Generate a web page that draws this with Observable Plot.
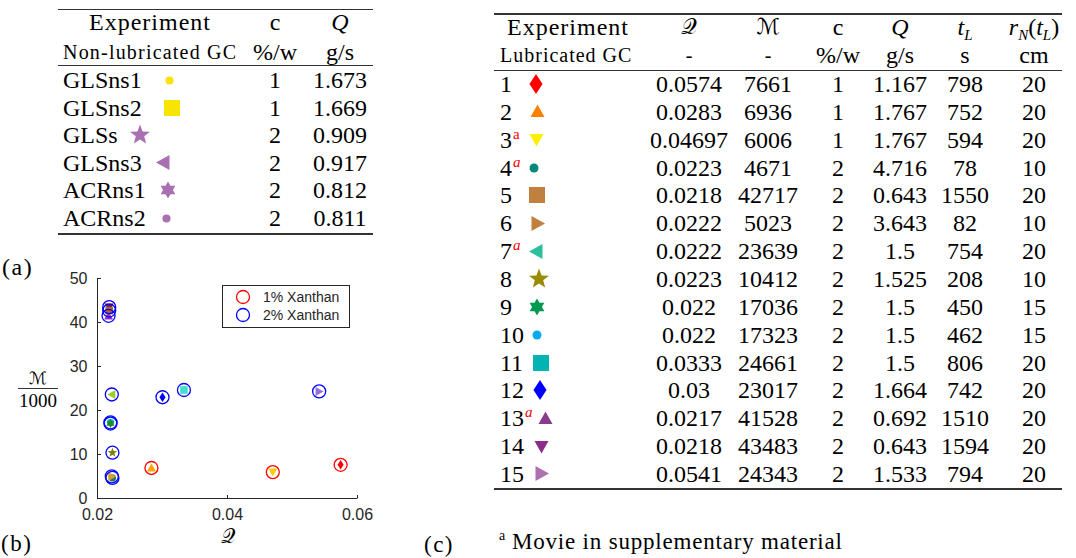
<!DOCTYPE html>
<html><head><meta charset="utf-8">
<script src="https://cdn.jsdelivr.net/npm/d3@7"></script>
<script src="https://cdn.jsdelivr.net/npm/@observablehq/plot@0.6"></script>
<style>
body{margin:0;background:#fff;}
#fig{position:relative;width:1076px;height:558px;overflow:hidden;background:#fff;font-family:"Liberation Serif","Times New Roman",serif;color:#000;}
.t{position:absolute;white-space:nowrap;line-height:1;font-family:"Liberation Serif","Times New Roman",serif;}
.rule{position:absolute;background:#333;}
.m{font-family:"DejaVu Serif","DejaVu Sans","Noto Sans",serif;font-style:normal;}
</style></head><body><div id="fig"></div>
<script>
// ---------- data ----------
const nonLubNames = ["GLSns1","GLSns2","GLSs","GLSns3","ACRns1","ACRns2"];
const nonLubC = [1,1,2,2,2,2];
const nonLubQ = ["1.673","1.669","0.909","0.917","0.812","0.811"];
const nonLubShape = ["circle","square","star","triLeft","hexagram","circle"];
const nonLubColor = ["#f7e400","#f7e400","#a870b0","#a870b0","#a870b0","#a870b0"];

const lubIds = [1,2,3,4,5,6,7,8,9,10,11,12,13,14,15];
const lubNote = ["","","a","ai","","","ai","","","","","","ai","",""];
const lubQcal = ["0.0574","0.0283","0.04697","0.0223","0.0218","0.0222","0.0222","0.0223","0.022","0.022","0.0333","0.03","0.0217","0.0218","0.0541"];
const lubM = [7661,6936,6006,4671,42717,5023,23639,10412,17036,17323,24661,23017,41528,43483,24343];
const lubC = [1,1,1,2,2,2,2,2,2,2,2,2,2,2,2];
const lubQ = ["1.167","1.767","1.767","4.716","0.643","3.643","1.5","1.525","1.5","1.5","1.5","1.664","0.692","0.643","1.533"];
const lubTL = [798,752,594,78,1550,82,754,208,450,462,806,742,1510,1594,794];
const lubRN = [20,20,20,10,20,10,20,10,15,15,20,20,20,20,20];
const lubShape = ["diamond","triUp","triDown","circle","square","triRight","triLeft","star","hexagram","circle","square","diamond","triUp","triDown","triRight"];
const lubColor = ["#ff0000","#ff8000","#ffee00","#00897a","#c0803e","#c0803e","#2ebf9e","#998c00","#00994f","#00aaee","#00b4b4","#0000ff","#8c3a8c","#8a2e8a","#b070b0"];
const plotColor = ["#ff0000","#ffa500","#ffcc00","#1f7a6e","#b5651d","#d4a030","#9acd32","#808000","#228b22","#00bfff","#40e0d0","#0000ff","#9932cc","#7f1734","#9370db"];
const xanthanLabels = ["1% Xanthan","2% Xanthan"];
const xanthanColors = ["#ff0000","#0000ff"];
const xTicks = [0.02,0.04,0.06];
const yTicks = [0,10,20,30,40,50];

// ---------- symbols ----------
function poly(pts){return {draw(ctx,size){const r=Math.sqrt(size/Math.PI);ctx.moveTo(pts[0][0]*r,pts[0][1]*r);for(let i=1;i<pts.length;i++)ctx.lineTo(pts[i][0]*r,pts[i][1]*r);ctx.closePath();}};}
const starPts=(n,inner)=>d3.range(2*n).map(i=>{const a=-Math.PI/2+i*Math.PI/n;const rr=i%2?inner:1;return [rr*Math.cos(a),rr*Math.sin(a)];});
const SYM={
  circle:{draw(ctx,size){const r=Math.sqrt(size/Math.PI);ctx.moveTo(r,0);ctx.arc(0,0,r,0,2*Math.PI);}},
  square:poly([[-1,-1],[1,-1],[1,1],[-1,1]]),
  diamond:poly([[0,-1.3],[0.85,0],[0,1.3],[-0.85,0]]),
  triUp:poly([[0,-1],[1,0.8],[-1,0.8]]),
  triDown:poly([[0,1],[1,-0.8],[-1,-0.8]]),
  triLeft:poly([[-1,0],[0.8,-1],[0.8,1]]),
  triRight:poly([[1,0],[-0.8,-1],[-0.8,1]]),
  star:poly(starPts(5,0.42)),
  hexagram:poly(starPts(6,0.58))
};
// inward tick marks drawn as line symbols
const tickUp={draw(ctx,size){const r=Math.sqrt(size/Math.PI);ctx.moveTo(0,0);ctx.lineTo(0,-r);}};
const tickRight={draw(ctx,size){const r=Math.sqrt(size/Math.PI);ctx.moveTo(0,0);ctx.lineTo(r,0);}};
const tableR={circle:4.5,square:8,diamond:7.7,triUp:7,triDown:7,triLeft:7.5,triRight:7.5,star:10.5,hexagram:8.5};
const plotR={circle:3.6,square:3.8,diamond:3.6,triUp:4.5,triDown:4.5,triLeft:4.5,triRight:4.5,star:5,hexagram:4.5};

// ---------- helpers ----------
const fig=document.getElementById("fig");
function put(html,x,y,{align="center",size=24,style=""}={}){
  const d=document.createElement("div");d.className="t";d.innerHTML=html;
  d.style.left=x+"px";d.style.top=y+"px";d.style.fontSize=size+"px";
  const tx=align==="center"?"-50%":align==="right"?"-100%":"0";
  d.style.transform=`translate(${tx},-50%)`;
  if(style)d.style.cssText+=style;
  fig.appendChild(d);return d;
}
function rule(x1,x2,y,h){const d=document.createElement("div");d.className="rule";
  d.style.left=x1+"px";d.style.width=(x2-x1)+"px";d.style.top=(y-h/2)+"px";d.style.height=h+"px";fig.appendChild(d);}
function marker(shape,color,x,y,r){
  const s=Math.ceil(r*3);const svg=d3.create("svg").attr("width",s).attr("height",s)
    .style("position","absolute").style("left",(x-s/2)+"px").style("top",(y-s/2)+"px").style("overflow","visible");
  svg.append("path").attr("transform",`translate(${s/2},${s/2})`).attr("d",d3.symbol(SYM[shape],Math.PI*r*r)()).attr("fill",color);
  fig.appendChild(svg.node());
}

// ---------- left table (a) ----------
const L={x1:58,x2:373,top:9.5,mid:65,bot:234,h1:22,h2:52,row0:80,dy:27.6,name:63,c:275,q:340};
const nonLubMarkX=[169,172,140,163,168,166];
rule(L.x1,L.x2,L.top,1.5);rule(L.x1,L.x2,L.mid,1);rule(L.x1,L.x2,L.bot,1.5);
put("Experiment",150,L.h1,{style:"letter-spacing:1px;"});put("c",L.c,L.h1);put("<i>Q</i>",L.q,L.h1);
put("Non-lubricated GC",L.name,L.h2,{align:"left",size:20,style:"letter-spacing:1.2px;"});
put("%/w",L.c,L.h2);put("g/s",L.q,L.h2);
nonLubNames.forEach((n,i)=>{const y=L.row0+L.dy*i;
  put(n,L.name,y,{align:"left"});put(String(nonLubC[i]),L.c,y);put(nonLubQ[i],L.q,y);
  marker(nonLubShape[i],nonLubColor[i],nonLubMarkX[i],y,tableR[nonLubShape[i]]*(nonLubShape[i]==="circle"?0.9:1));
});
put("(a)",2,267,{align:"left",size:24,style:"letter-spacing:1.5px;"});

// ---------- right table (c) ----------
const R={x1:494,x2:1062,top:14,mid:70,bot:489,h1:27,h2:55,row0:84,dy:27.85,num:500,qc:689,m:768,c:838,q:900,tl:965,rn:1034};
const lubMarkX=[536,537,536,534,537,537,536,539,537,537,541,540,545,541,541];
rule(R.x1,R.x2,R.top,1.5);rule(R.x1,R.x2,R.mid,1);rule(R.x1,R.x2,R.bot,1.5);
put("Experiment",568,R.h1,{style:"letter-spacing:1px;"});
put("<span class='m'>𝒬</span>",R.qc,R.h1,{size:22});
put("<span class='m'>ℳ</span>",R.m,R.h1,{size:22});
put("c",R.c,R.h1);put("<i>Q</i>",R.q,R.h1);
put("<i>t<sub style='font-size:15px'>L</sub></i>",R.tl,R.h1+2);
put("<i>r<sub style='font-size:15px'>N</sub></i>(<i>t<sub style='font-size:15px'>L</sub></i>)",R.rn,R.h1+2);
put("Lubricated GC",R.num,R.h2,{align:"left",size:20,style:"letter-spacing:1px;"});
put("-",R.qc,R.h2,{size:20});put("-",R.m,R.h2,{size:20});
put("%/w",R.c,R.h2);put("g/s",R.q,R.h2);put("s",R.tl,R.h2);put("cm",R.rn,R.h2);
lubIds.forEach((id,i)=>{const y=R.row0+R.dy*i;
  let sup="";
  if(lubNote[i]==="a")sup="<span style='color:#ff0000;font-size:15px;position:relative;top:-9px;margin-left:1px'>a</span>";
  if(lubNote[i]==="ai")sup="<span style='color:#ff0000;font-size:15px;font-style:italic;position:relative;top:-9px;margin-left:1px'>a</span>";
  put(id+sup,R.num,y,{align:"left"});
  put(lubQcal[i],R.qc,y);put(String(lubM[i]),R.m,y);put(String(lubC[i]),R.c,y);
  put(lubQ[i],R.q,y);put(String(lubTL[i]),R.tl,y);put(String(lubRN[i]),R.rn,y);
  marker(lubShape[i],lubColor[i],lubMarkX[i],y,tableR[lubShape[i]]);
});
put("(c)",424,544,{align:"left",size:23,style:"letter-spacing:1.5px;"});
put("<span style='font-size:14px;position:relative;top:-9px;margin-right:6px'>a</span>Movie in supplementary material",499,541,{align:"left",size:23,style:"letter-spacing:0.8px;"});

// ---------- scatter (b) ----------
const pts=lubIds.map((id,i)=>({id,q:+lubQcal[i],m:lubM[i]/1000,c:lubC[i],shape:lubShape[i],color:plotColor[i]}));
const shapes=[...new Set(lubShape)];
const axisColor="#262626";
const chart=Plot.plot({
  width:380,height:288,marginLeft:97,marginRight:23,marginTop:8,marginBottom:60,
  x:{domain:[0.02,0.06]},y:{domain:[0,50]},color:{type:"identity"},
  style:{fontFamily:"'Liberation Sans',Arial,sans-serif",fontSize:"16px",color:axisColor,background:"transparent",overflow:"visible"},
  marks:[
    Plot.ruleY([0],{stroke:axisColor,strokeWidth:1}),
    Plot.ruleX([0.02],{stroke:axisColor,strokeWidth:1}),
    Plot.axisX(xTicks,{tickSize:0,tickPadding:10,tickFormat:d=>d.toFixed(2),label:null,fill:axisColor}),
    Plot.axisY(yTicks,{tickSize:0,tickPadding:10,label:null,fill:axisColor}),
    Plot.dot(xTicks,{x:d=>d,frameAnchor:"bottom",symbol:tickUp,r:3.5,stroke:axisColor,fill:"none",strokeWidth:1}),
    Plot.dot(yTicks,{y:d=>d,frameAnchor:"left",symbol:tickRight,r:3.5,stroke:axisColor,fill:"none",strokeWidth:1}),
    ...shapes.map(s=>Plot.dot(pts.filter(d=>d.shape===s),{x:"q",y:"m",symbol:SYM[s],r:plotR[s],fill:"color",stroke:null})),
    Plot.dot(pts,{x:"q",y:"m",r:6.5,fill:"none",stroke:d=>xanthanColors[d.c-1],strokeWidth:1.3})
  ]
});
chart.style.position="absolute";chart.style.left="0px";chart.style.top="270px";
fig.appendChild(chart);

// legend
const lg=document.createElement("div");
lg.style.cssText="position:absolute;left:222px;top:285px;width:126px;height:41px;border:1px solid #262626;background:#fff;";
fig.appendChild(lg);
xanthanLabels.forEach((lab,i)=>{
  const y=296.7+18.3*i;
  const svg=d3.create("svg").attr("width",20).attr("height",20).style("position","absolute").style("left","233px").style("top",(y-10)+"px");
  svg.append("circle").attr("cx",10).attr("cy",10).attr("r",6.5).attr("fill","none").attr("stroke",xanthanColors[i]).attr("stroke-width",1.3);
  fig.appendChild(svg.node());
  put(lab,263,y,{align:"left",size:14,style:"font-family:'Liberation Sans',Arial,sans-serif;color:#262626;"});
});
// axis labels
put("<span class='m'>ℳ</span>",38,378,{size:17});
rule(18,58,388.5,1);
put("1000",38,399.5,{size:19});
put("<span class='m'>𝒬</span>",228,536,{size:20});
put("(b)",1,543,{align:"left",size:23,style:"letter-spacing:1.5px;"});
</script></body></html>
